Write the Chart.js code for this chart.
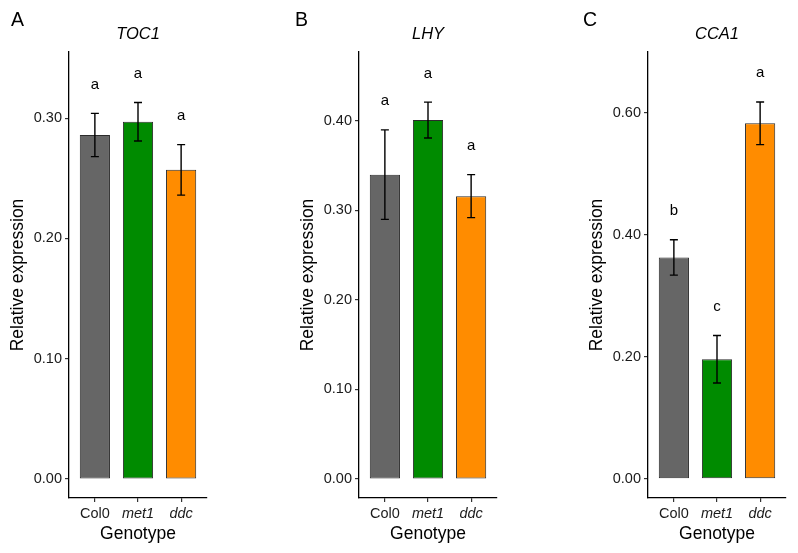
<!DOCTYPE html>
<html>
<head>
<meta charset="utf-8">
<script src="https://cdn.jsdelivr.net/npm/chart.js@4.4.1/dist/chart.umd.min.js"></script>
<style>
  html, body { margin: 0; padding: 0; background: #fff; }
  #wrap { position: relative; width: 798px; height: 553px; overflow: hidden; }
  canvas { position: absolute; top: 0; }
</style>
</head>
<body>
<div id="wrap">
  <canvas id="pA" width="290" height="553" style="left:0px"></canvas>
  <canvas id="pB" width="289" height="553" style="left:290px"></canvas>
  <canvas id="pC" width="219" height="553" style="left:579px"></canvas>
</div>
<script>
// genotypes on the x axis (Col0 upright, mutants italic)
const genotypes = ["Col0", "met1", "ddc"]
const barColors = ["#666666", "#008B00", "#FF8C00"]

// TOC1
const toc1Mean = [0.286, 0.297, 0.257]
const toc1Se = [0.018, 0.016, 0.021]
const toc1Groups = ["a", "a", "a"]
const toc1Ticks = [0, 0.1, 0.2, 0.3]

// LHY
const lhyMean = [0.340, 0.401, 0.316]
const lhySe = [0.050, 0.020, 0.024]
const lhyGroups = ["a", "a", "a"]
const lhyTicks = [0, 0.1, 0.2, 0.3, 0.4]

// CCA1
const cca1Mean = [0.363, 0.196, 0.583]
const cca1Se = [0.029, 0.039, 0.035]
const cca1Groups = ["b", "c", "a"]
const cca1Ticks = [0, 0.2, 0.4, 0.6]

const FONT = "'Liberation Sans', Arial, Helvetica, sans-serif"

// error bars, significance letters, gene title and panel letter
const annotate = {
  id: "annotate",
  afterDatasetsDraw(chart, args, opts) {
    const { ctx, chartArea } = chart
    const x = chart.scales.x, y = chart.scales.y
    ctx.save()
    ctx.strokeStyle = "#000"
    ctx.lineWidth = 1.4
    opts.mean.forEach((m, i) => {
      const px = x.getPixelForValue(i + 1)
      const hi = y.getPixelForValue(m + opts.se[i])
      const lo = y.getPixelForValue(m - opts.se[i])
      ctx.beginPath()
      ctx.moveTo(px, hi); ctx.lineTo(px, lo)
      ctx.moveTo(px - 4, hi); ctx.lineTo(px + 4, hi)
      ctx.moveTo(px - 4, lo); ctx.lineTo(px + 4, lo)
      ctx.stroke()
      ctx.fillStyle = "#000"
      ctx.font = "15px " + FONT
      ctx.textAlign = "center"
      ctx.textBaseline = "middle"
      ctx.fillText(opts.groups[i], px, y.getPixelForValue(m + opts.se[i] + opts.gap))
    })
    ctx.fillStyle = "#000"
    ctx.textAlign = "center"
    ctx.textBaseline = "alphabetic"
    ctx.font = "italic 16.5px " + FONT
    ctx.fillText(opts.gene, (chartArea.left + chartArea.right) / 2, 39)
    ctx.textAlign = "left"
    ctx.font = "19.5px " + FONT
    ctx.fillText(opts.panel, opts.panelX, 25.5)
    ctx.restore()
  }
}

function makePanel(id, gene, panel, panelX, mean, se, groups, ticks, yMin, yMax, gap, padRight) {
  new Chart(document.getElementById(id), {
    type: "bar",
    data: {
      datasets: [{
        data: mean.map((v, i) => ({ x: i + 1, y: v })),
        backgroundColor: barColors,
        borderColor: "#2b2b2b",
        borderWidth: 1,
        borderSkipped: false,
        barPercentage: 0.7,
        categoryPercentage: 1
      }]
    },
    options: {
      responsive: false,
      animation: false,
      layout: { padding: { top: 52, left: 0, right: padRight, bottom: 0 } },
      plugins: {
        legend: { display: false },
        tooltip: { enabled: false },
        annotate: { mean, se, groups, gene, panel, panelX, gap }
      },
      scales: {
        x: {
          type: "linear",
          offset: false,
          min: 0.4, max: 3.6,
          afterBuildTicks: s => { s.ticks = genotypes.map((g, i) => ({ value: i + 1 })) },
          afterFit: s => { s.height = 55 },
          ticks: {
            callback: v => genotypes[v - 1],
            color: "#1a1a1a",
            padding: 3,
            maxRotation: 0,
            autoSkip: false,
            font: ctx => ({ family: FONT, size: 14.5, style: ctx.index > 0 ? "italic" : "normal" })
          },
          grid: { offset: false, drawOnChartArea: false, drawTicks: true, tickLength: 4, color: "#333", lineWidth: 1.2 },
          border: { display: true, color: "#000", width: 1.3 },
          title: { display: true, text: "Genotype", color: "#000", font: { family: FONT, size: 17.5 }, padding: { top: 0, bottom: 8.5 } }
        },
        y: {
          min: yMin, max: yMax,
          afterBuildTicks: s => { s.ticks = ticks.map(v => ({ value: v })) },
          afterFit: s => { s.width = 69 },
          ticks: {
            callback: v => v.toFixed(2),
            color: "#1a1a1a",
            padding: 3,
            font: { family: FONT, size: 14.5 }
          },
          grid: { drawOnChartArea: false, drawTicks: true, tickLength: 4, color: "#333", lineWidth: 1.2 },
          border: { display: true, color: "#000", width: 1.3 },
          title: { display: true, text: "Relative expression", color: "#000", font: { family: FONT, size: 17.5 }, padding: { top: 7.5, bottom: 0 } }
        }
      }
    },
    plugins: [annotate]
  })
}

makePanel("pA", "TOC1", "A", 11, toc1Mean, toc1Se, toc1Groups, toc1Ticks, -0.0158, 0.355, 0.024, 83)
makePanel("pB", "LHY", "B", 5, lhyMean, lhySe, lhyGroups, lhyTicks, -0.0212, 0.477, 0.032, 82)
makePanel("pC", "CCA1", "C", 4, cca1Mean, cca1Se, cca1Groups, cca1Ticks, -0.0316, 0.70, 0.047, 12)
</script>
</body>
</html>
